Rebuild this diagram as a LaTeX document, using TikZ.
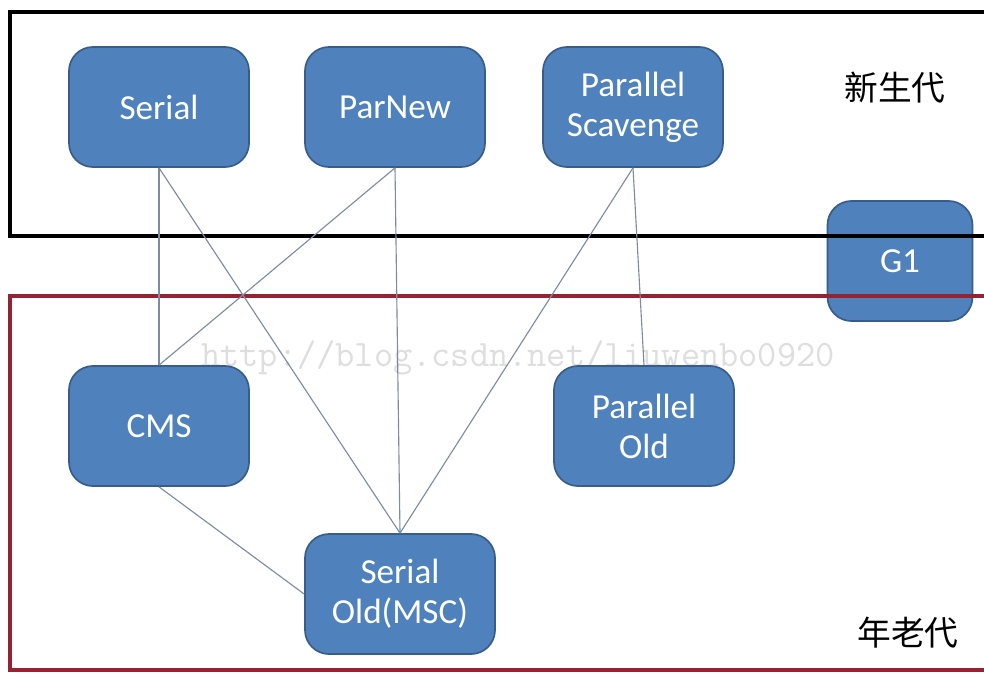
\documentclass[tikz,border=0pt]{standalone}
\usepackage{fontspec}
\setmainfont{Carlito}
\newfontfamily\cjk{Noto Sans CJK SC}
\usetikzlibrary{positioning}
\definecolor{gcblue}{RGB}{79,129,189}
\definecolor{gcedge}{RGB}{56,93,138}
\definecolor{gcline}{RGB}{125,140,160}
\definecolor{oldred}{RGB}{150,35,50}

\begin{document}
\begin{tikzpicture}[
    x=0.025cm, y=-0.025cm,
    gc/.style={draw=gcedge, line width=1.2pt, fill=gcblue, rounded corners=0.6cm,
        minimum width=4.5cm, minimum height=3cm, text=white, align=center,
        font=\fontsize{25}{28.5}\selectfont},
    link/.style={gcline, line width=0.8pt},
    genlabel/.style={font=\cjk\fontsize{24}{28}\selectfont}
]
\clip (0,0) rectangle (984,673);
\fill[white] (0,0) rectangle (984,673);

% Watermark
\node[font=\ttfamily\fontsize{26.5}{26.5}\selectfont, text=black!13] (wm) at (518,358) {http://blog.csdn.net/liuwenbo0920};

% Collectors
\node[gc] (serial) at (159,107) {Serial};
\node[gc] (parnew) at (395,107) {ParNew};
\node[gc] (pscav) at (633,107) {Parallel\\Scavenge};
\node[gc, minimum width=3.625cm] (g1) at (900,261) {G1};
\node[gc] (cms) at (159,426) {CMS};
\node[gc] (pold) at (644,426) {Parallel\\Old};
\node[gc, minimum width=4.75cm] (sold) at (400,594) {Serial\\Old(MSC)};

% Generations
\draw[line width=2.2pt] (10,12) rectangle (1000,236);
\draw[oldred, line width=2.5pt] (10,296) rectangle (1000,670);
\node[genlabel] (young) at (895,88) {新生代};
\node[genlabel] (old) at (908,633) {年老代};

% Combinations
\draw[link] (serial.south) -- (cms.north);
\draw[link] (serial.south) -- (sold.north);
\draw[link] (parnew.south) -- (cms.north);
\draw[link] (parnew.south) -- (sold.north);
\draw[link] (pscav.south) -- (sold.north);
\draw[link] (pscav.south) -- (pold.north);
\draw[link] (cms.south) -- (sold.west);

\end{tikzpicture}
\end{document}
